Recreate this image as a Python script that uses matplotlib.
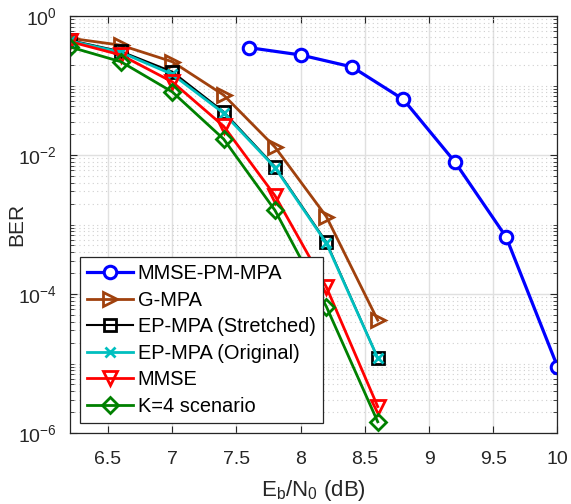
import numpy as np
import matplotlib
matplotlib.use('Agg')
import matplotlib.pyplot as plt
from matplotlib.ticker import LogLocator, NullFormatter, NullLocator, FixedLocator

plt.rcParams['font.family'] = ['Liberation Sans', 'DejaVu Sans']
plt.rcParams['mathtext.fontset'] = 'custom'
plt.rcParams['mathtext.rm'] = 'Liberation Sans'
plt.rcParams['mathtext.it'] = 'Liberation Sans'

# snr points (dB)
snr_pm = [7.6, 8.0, 8.4, 8.8, 9.2, 9.6, 10.0]
snr = [6.2, 6.6, 7.0, 7.4, 7.8, 8.2, 8.6]

ber_pm_mpa = [0.35, 0.275, 0.185, 0.063, 8.0e-3, 6.6e-4, 9.0e-6]
ber_gmpa = [0.48, 0.38, 0.22, 0.073, 0.013, 1.3e-3, 4.2e-5]
ber_ep_str = [0.45, 0.31, 0.158, 0.042, 6.8e-3, 5.6e-4, 1.2e-5]
ber_ep_orig = [0.44, 0.30, 0.145, 0.040, 6.6e-3, 5.4e-4, 1.2e-5]
ber_mmse = [0.43, 0.275, 0.113, 0.026, 2.6e-3, 1.26e-4, 2.4e-6]
ber_k4 = [0.36, 0.22, 0.081, 0.017, 1.6e-3, 6.6e-5, 1.45e-6]

fig = plt.figure(figsize=(5.71, 5.04), dpi=100)
ax = fig.add_axes([69.5/571, 1 - 433/504, (557.5-69.5)/571, (433-16)/504])

ax.semilogy(snr_pm, ber_pm_mpa, '-o', color='#0000ff', lw=2.3, ms=9,
            mfc='white', mew=2.2, label='MMSE-PM-MPA')
ax.semilogy(snr, ber_gmpa, '->', color='#a0410d', lw=2.0, ms=10,
            mfc='none', mew=2.0, label='G-MPA')
ax.semilogy(snr, ber_ep_str, '-s', color='black', lw=1.5, ms=8,
            mfc='none', mew=2.0, label='EP-MPA (Stretched)')
ax.semilogy(snr, ber_ep_orig, '-x', color='#00bfbf', lw=2.0, ms=7,
            mew=2.0, label='EP-MPA (Original)')
ax.semilogy(snr, ber_mmse, '-v', color='#ff0000', lw=2.0, ms=10,
            mfc='none', mew=2.0, label='MMSE')
ax.semilogy(snr, ber_k4, '-D', color='#008000', lw=2.0, ms=8,
            mfc='none', mew=2.0, label='K=4 scenario')

ax.set_xlim(6.2, 10)
ax.set_ylim(1e-6, 1)
ax.xaxis.set_major_locator(FixedLocator([6.5, 7, 7.5, 8, 8.5, 9, 9.5, 10]))
ax.xaxis.set_minor_locator(NullLocator())
ax.set_xticklabels(['6.5', '7', '7.5', '8', '8.5', '9', '9.5', '10'])
ax.yaxis.set_major_locator(FixedLocator([1e-6, 1e-4, 1e-2, 1]))
ax.set_yticklabels([r'$10^{-6}$', r'$10^{-4}$', r'$10^{-2}$', r'$10^{0}$'])
ax.yaxis.set_minor_locator(LogLocator(base=10, subs=np.arange(1, 10), numticks=20))
ax.yaxis.set_minor_formatter(NullFormatter())

ax.grid(True, which='major', color='#e0e0e0', lw=1.0, ls='-')
ax.grid(True, which='minor', axis='y', color='#cfcfcf', lw=0.8, ls=(0, (1, 3)))
ax.set_axisbelow(True)
ax.tick_params(which='both', direction='in', top=True, right=True,
               labelsize=14, colors='#262626', labelcolor='#262626')
ax.tick_params(which='major', length=5)
ax.tick_params(axis='x', which='major', pad=13)
ax.tick_params(axis='y', which='major', pad=9)
ax.tick_params(which='minor', length=3)
for s in ax.spines.values():
    s.set_color('#262626')
    s.set_linewidth(0.9)

ax.set_xlabel(r'E$_\mathregular{b}$/N$_\mathregular{0}$ (dB)', fontsize=16, color='#262626', labelpad=7)
ax.set_ylabel('BER', fontsize=15, color='#262626')
ax.yaxis.set_label_coords(-0.088, 0.5)

leg = ax.legend(loc='lower left', bbox_to_anchor=(0.021, 0.024), fontsize=14.4,
                frameon=True, fancybox=False, edgecolor='#262626',
                handlelength=2.3, handletextpad=0.25, borderpad=0.35,
                labelspacing=0.38, borderaxespad=0, framealpha=1)
leg.get_frame().set_linewidth(0.9)

fig.savefig('out.png', dpi=100)
